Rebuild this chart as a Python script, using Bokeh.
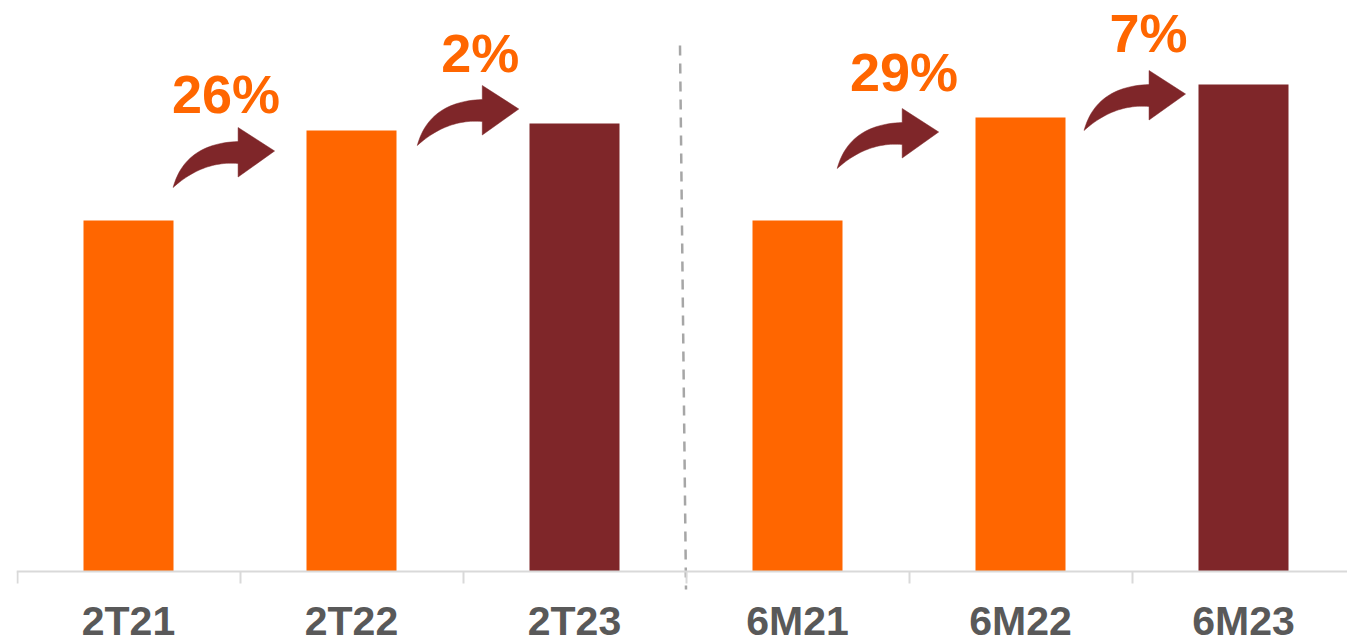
import numpy as np
from bokeh.plotting import figure
from bokeh.models import Range1d, LinearAxis, FixedTicker, ColumnDataSource
from bokeh.core.properties import value
from bokeh.embed import file_html
from bokeh.resources import INLINE

# ---------------- data ----------------
categories = ["2T21", "2T22", "2T23", "6M21", "6M22", "6M23"]
values = [351, 441, 448, 351, 454, 487]
growth_labels = ["26%", "2%", "29%", "7%"]
first_group_size = 3

# ---------------- layout / style ----------------
ORANGE = "#FF6600"
MAROON = "#7F2629"
bar_colors = [ORANGE, ORANGE, MAROON, ORANGE, ORANGE, MAROON]
PX = 223.0  # pixels per category slot
# arrow tail anchors (data units) and label anchors
arrow_tail_x = [0.700, 1.795, 3.678, 4.785]
arrow_tail_y = [384, 426, 403, 441]
label_x = [0.937, 2.077, 3.978, 5.074]
label_y = [478, 519, 500, 539]

n = len(categories)
centers = [i + 0.5 for i in range(n)]
bounds = [float(i) for i in range(n + 1)]

p = figure(width=1347, height=639, output_backend="svg", toolbar_location=None,
           x_range=Range1d(-0.5 / PX, (1347 - 16.5) / PX),
           y_range=Range1d(-68, 571),
           x_axis_location=None, y_axis_location=None,
           min_border_left=16, min_border_right=0, min_border_top=0, min_border_bottom=0)
p.outline_line_color = None
p.background_fill_color = "white"
p.border_fill_color = "white"
for g in p.grid:
    g.visible = False

# bars
src = ColumnDataSource(dict(x=centers, top=values, color=bar_colors, cat=categories))
p.vbar(x="x", top="top", bottom=0, width=90 / PX, fill_color="color", line_color=None, source=src)

# divider between the two groups
p.segment(x0=[first_group_size - 6 / PX], y0=[526], x1=[float(first_group_size)], y1=[-18],
          line_color="#A6A6A6", line_width=2.5, line_dash="10 8")

# curved arrows
def bez(p0, c, p2, k=30):
    t = np.linspace(0, 1, k)[:, None]
    return (1 - t) ** 2 * np.array(p0) + 2 * t * (1 - t) * np.array(c) + t ** 2 * np.array(p2)

upper = bez((0, 0), (12, 44), (65, 46))
lower = bez((65, 24), (30, 27), (0, 0))
head = np.array([(65, 60), (101.5, 36.5), (65, 10.5)])
shape = np.vstack([upper, head, lower])
xs, ys = [], []
for tx, ty in zip(arrow_tail_x, arrow_tail_y):
    xs.append(list(tx + shape[:, 0] / PX))
    ys.append(list(ty + shape[:, 1]))
p.patches(xs=xs, ys=ys, fill_color=MAROON, line_color=MAROON, line_width=0.5)

# growth labels
p.text(x=label_x, y=label_y, text=growth_labels, text_color=ORANGE,
       text_font=value("Liberation Sans"), text_font_style="bold",
       text_font_size="54px", text_align="center", text_baseline="alphabetic")

# x axis with boundary ticks
xaxis = LinearAxis(ticker=FixedTicker(ticks=centers, minor_ticks=bounds), fixed_location=0)
xaxis.major_label_overrides = {c: cat for c, cat in zip(centers, categories)}
xaxis.axis_line_color = "#D9D9D9"
xaxis.axis_line_width = 2
xaxis.major_tick_line_color = None
xaxis.major_tick_out = 0
xaxis.major_tick_in = 0
xaxis.minor_tick_line_color = "#D9D9D9"
xaxis.minor_tick_line_width = 2
xaxis.minor_tick_out = 12
xaxis.minor_tick_in = 0
xaxis.major_label_text_font = "Liberation Sans"
xaxis.major_label_text_font_style = "bold"
xaxis.major_label_text_font_size = "41px"
xaxis.major_label_text_color = "#595959"
xaxis.major_label_standoff = 14
p.add_layout(xaxis, "below")

open("out.html", "w").write(file_html(p, INLINE))
